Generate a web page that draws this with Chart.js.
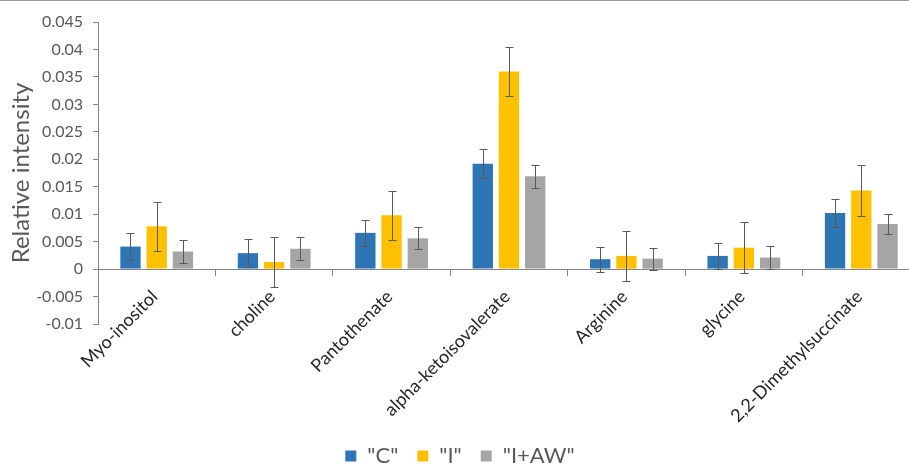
<!DOCTYPE html>
<html>
<head>
<meta charset="utf-8">
<script src="https://cdn.jsdelivr.net/npm/chart.js@4.4.1/dist/chart.umd.min.js"></script>
<style>
  html, body { margin: 0; padding: 0; background: #fff; overflow: hidden; }
  #wrap { position: absolute; left: 0; top: 0; width: 920px; height: 477px; }
  #topline { position: absolute; left: 0; top: 0; width: 909px; height: 1px; background: #9a9a9a; }
</style>
</head>
<body>
<div id="wrap"><canvas id="chart"></canvas></div>
<div id="topline"></div>
<script>
// metabolites
let kategori = ["Myo-inositol", "choline", "Pantothenate", "alpha-ketoisovalerate", "Arginine", "glycine", "2,2-Dimethylsuccinate"];

// mean values per group
let nilaiC  = [0.0041, 0.0029, 0.0066, 0.0192, 0.0018, 0.0024, 0.0102];
let nilaiI  = [0.0078, 0.0013, 0.0098, 0.0360, 0.0024, 0.0039, 0.0143];
let nilaiAW = [0.0032, 0.0037, 0.0056, 0.0169, 0.0019, 0.0021, 0.0082];

// error (+/-) per group
let errC  = [0.0024, 0.0026, 0.0024, 0.0026, 0.0023, 0.0023, 0.0025];
let errI  = [0.0045, 0.0046, 0.0045, 0.0044, 0.0046, 0.0047, 0.0046];
let errAW = [0.0021, 0.0021, 0.0020, 0.0021, 0.0020, 0.0021, 0.0019];

let namaSeri = ['"C"', '"I"', '"I+AW"'];
let yMin = -0.01, yMax = 0.045, yStep = 0.005;

const fontName = "Lato, 'Open Sans', sans-serif";
const garis = "#868686";

// draw error bars on top of each bar
const errorBars = {
    id: "errorBars",
    afterDatasetsDraw(chart) {
        const ctx = chart.ctx;
        const y = chart.scales.y;
        ctx.save();
        ctx.strokeStyle = "#595959";
        ctx.lineWidth = 1;
        chart.data.datasets.forEach((ds, i) => {
            const meta = chart.getDatasetMeta(i);
            meta.data.forEach((bar, j) => {
                const v = ds.data[j], e = ds.err[j];
                const x = Math.round(bar.x) + 0.5;
                const yt = Math.round(y.getPixelForValue(v + e)) + 0.5;
                const yb = Math.round(y.getPixelForValue(v - e)) + 0.5;
                ctx.beginPath();
                ctx.moveTo(x, yt); ctx.lineTo(x, yb);
                ctx.moveTo(x - 4, yt); ctx.lineTo(x + 4, yt);
                ctx.moveTo(x - 4, yb); ctx.lineTo(x + 4, yb);
                ctx.stroke();
            });
        });
        ctx.restore();
    }
};

let ctx = document.getElementById("chart").getContext("2d");
new Chart(ctx, {
    type: "bar",
    data: {
        labels: kategori,
        datasets: [
            { label: namaSeri[0], data: nilaiC,  err: errC,  backgroundColor: "#2E75B6", xAxisID: "x" },
            { label: namaSeri[1], data: nilaiI,  err: errI,  backgroundColor: "#FFC000", xAxisID: "x" },
            { label: namaSeri[2], data: nilaiAW, err: errAW, backgroundColor: "#A5A5A5", xAxisID: "x" }
        ]
    },
    options: {
        responsive: true,
        maintainAspectRatio: false,
        animation: false,
        categoryPercentage: 0.67,
        barPercentage: 0.775,
        layout: { padding: { top: 22, left: 0, right: 0, bottom: 0 } },
        plugins: {
            tooltip: { enabled: false },
            legend: {
                position: "bottom",
                labels: {
                    boxWidth: 11,
                    boxHeight: 11,
                    padding: 19,
                    color: "#595959",
                    font: { family: fontName, size: 22 }
                }
            }
        },
        scales: {
            x: {
                position: { y: 0 },
                grid: { drawOnChartArea: false, tickLength: 6, color: garis },
                border: { color: garis },
                ticks: {
                    autoSkip: false,
                    minRotation: 45,
                    maxRotation: 45,
                    padding: 11,
                    labelOffset: -2,
                    color: "#262626",
                    font: { family: fontName, size: 18 }
                }
            },
            x2: {
                type: "category",
                position: "bottom",
                grid: { display: false },
                border: { display: false },
                ticks: { display: false },
                afterFit(s) { s.height = 102; }
            },
            y: {
                min: yMin,
                max: yMax,
                ticks: {
                    stepSize: yStep,
                    padding: 10,
                    color: "#595959",
                    font: { family: fontName, size: 16 },
                    callback: (v) => String(+v.toFixed(3))
                },
                grid: { drawOnChartArea: false, tickLength: 5, color: garis },
                border: { color: garis },
                title: {
                    display: true,
                    text: "Relative intensity",
                    color: "#595959",
                    padding: { top: 7, bottom: 0 },
                    font: { family: fontName, size: 24 }
                },
                afterFit(s) { s.width = 98; }
            }
        }
    },
    plugins: [errorBars]
});
</script>
</body>
</html>
